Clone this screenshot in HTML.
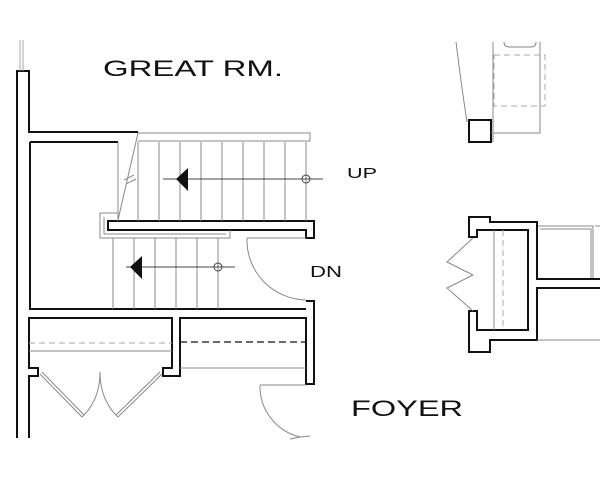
<!DOCTYPE html>
<html><head><meta charset="utf-8"><style>
html,body{margin:0;padding:0;background:#fff;width:600px;height:480px;overflow:hidden}
svg{display:block}
text{font-family:"Liberation Sans",sans-serif;fill:#111}
</style></head><body>
<svg width="600" height="480" viewBox="0 0 600 480" xmlns="http://www.w3.org/2000/svg">
<g fill="none" stroke="#111" stroke-width="2">
<path d="M17,438 V71 H29 V132 H138"/>
<path d="M29,438 V376 H38 V368 H29 V318 H172 V368 H163 V376 H180 V318 H306 V384 H314 V301 H306"/>
<path d="M30,142 H118"/>
<path d="M30,142 V309 H306"/>
<path d="M108,221 H314 V238 H306 V230 H108 Z"/>
<path d="M600,279 H537 V222 H490 V217 H469 V237 H477 V230 H528 V330 H477 V311 H469 V352 H490 V340 H537 V288 H600"/>
<rect x="469" y="120" width="22" height="22"/>
</g>
<g fill="none" stroke="#888" stroke-width="1">
<path d="M138,133 H310 V141 H138"/>
<path d="M118,142 V221 M138,142 V221 M159,142 V221 M180,142 V221 M201,142 V221 M222,142 V221 M243,142 V221 M264,142 V221 M285,142 V221 M306,142 V221"/>
<path d="M138,133 L118,220"/>
<path d="M124,180 L134,175 M126,184 L136,179"/>
<path d="M113,238 V309 M134,238 V309 M155,238 V309 M176,238 V309 M197,238 V309 M218,238 V309"/>
<path d="M118,213 H100 V238 H230 V230 M104,217 V234 H226"/>
<path d="M247,238 H306"/>
<path d="M247,238 A60,60 0 0 0 306,300"/>
<path d="M260,385 H306"/>
<path d="M260,385 A52,52 0 0 0 300,437 L290,439 M300,437 L310,436"/>
<path d="M29,351 H172 M180,368 H306"/>
<path d="M40,374 L82,417 M42,372 L84,415 M162,374 L118,417 M160,372 L116,415"/>
<path d="M82,417 Q100,400 100,372 Q100,400 118,417"/>
<path d="M494,230 V330 M537,340 H600"/>
<path d="M473,238 L447,262 L473,275 M473,311 L447,288 L473,275"/>
<path d="M538,226 H593 V278 M540,229 H591 V278 M595,226 H600"/>
<path d="M456,42 Q462,90 467,122"/>
<path d="M493,42 V142 M540,42 V133 H491"/>
<path d="M504,42 Q504,47 509,47 H531 Q536,47 536,42"/>
</g>
<g fill="none" stroke="#aaa" stroke-width="1" stroke-dasharray="6,4">
<path d="M29,343 H172"/>
<path d="M503,230 V330"/>
<rect x="494" y="55" width="51" height="51"/>
</g>
<path d="M180,342 H306" stroke="#111" stroke-width="1.2" stroke-dasharray="7,4" fill="none"/>
<g stroke="#444" stroke-width="1" fill="none">
<path d="M163,179 H323"/><circle cx="306" cy="179" r="4"/>
<path d="M126,267 H235"/><circle cx="218" cy="267" r="4"/>
<path d="M20,40 V71 M23,40 V71" stroke="#aaa"/>
</g>
<polygon points="176,179 188,168 188,191" fill="#111"/>
<polygon points="130,267 142,256 142,279" fill="#111"/>
<text x="103" y="76" font-size="22" textLength="180" lengthAdjust="spacingAndGlyphs">GREAT RM.</text>
<text x="347" y="178" font-size="15" textLength="30" lengthAdjust="spacingAndGlyphs">UP</text>
<text x="310" y="277" font-size="16" textLength="32" lengthAdjust="spacingAndGlyphs">DN</text>
<text x="351" y="416" font-size="22" textLength="112" lengthAdjust="spacingAndGlyphs">FOYER</text>
</svg>
</body></html>
